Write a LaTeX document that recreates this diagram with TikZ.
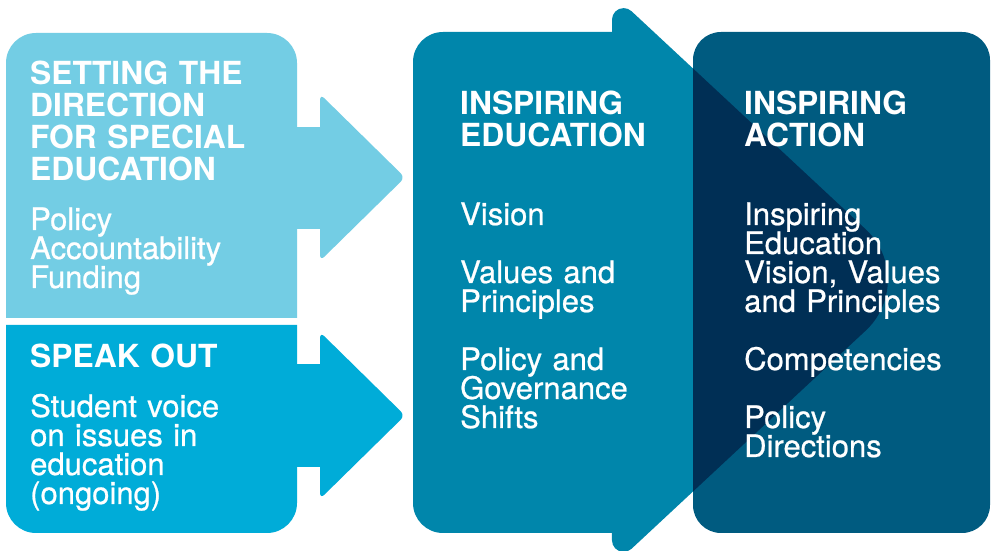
\documentclass[tikz,border=0pt]{standalone}
\usepackage{fontspec}
\setmainfont{TeX Gyre Heros}
\newfontfamily\bodyfont{TeX Gyre Heros}[FakeBold=0.7]
\lineskiplimit=-50pt\relax
\newcommand\tightlines{\lineskiplimit=-50pt\relax}
\definecolor{cLight}{HTML}{73CDE4}
\definecolor{cCyan}{HTML}{00ACD8}
\definecolor{cTeal}{HTML}{0086AB}
\definecolor{cDark}{HTML}{005B80}
\definecolor{cOver}{HTML}{002F55}
\newcommand\tealheadpath{(612,270) -- (612,531.3) arc[start angle=180,end angle=47,radius=11.6] -- (865.9,321.5) arc[start angle=47,end angle=-47,radius=69] -- (631.5,2.2) arc[start angle=-47,end angle=-180,radius=11.6] -- cycle}
\tikzset{
  head/.style={anchor=base west, inner sep=0pt, text=white, font=\tightlines\bfseries\fontsize{31.8}{32}\selectfont, text width=300pt, align=left},
  body/.style={anchor=base west, inner sep=0pt, text=white, font=\tightlines\bodyfont\fontsize{31}{29}\selectfont, text width=300pt, align=left},
}
\begin{document}
\begin{tikzpicture}[x=1pt,y=1pt]
\useasboundingbox (0,0) rectangle (991,551);
\clip (0,0) rectangle (991,551);
\fill[white] (0,0) rectangle (991,551);
% top-left box with arrow
\fill[cLight] (6,233) -- (6,488) arc[start angle=180,end angle=90,radius=30] -- (267,518) arc[start angle=90,end angle=0,radius=30] -- (297,233) -- cycle;
\fill[cLight] (290,322) rectangle (322,424);
\fill[cLight, rounded corners=6pt] (320,457) -- (405,373.5) -- (320,290) -- cycle;
% bottom-left box with arrow
\fill[cCyan] (6,226) -- (6,48) arc[start angle=180,end angle=270,radius=30] -- (267,18) arc[start angle=270,end angle=360,radius=30] -- (297,226) -- cycle;
\fill[cCyan] (290,84) rectangle (322,187);
\fill[cCyan, rounded corners=6pt] (320,219) -- (405,135.5) -- (320,52) -- cycle;
% middle teal arrow
\fill[cTeal] (620,519) -- (443,519) arc[start angle=90,end angle=180,radius=30] -- (413,48) arc[start angle=180,end angle=270,radius=30] -- (620,18) -- cycle;
\fill[cTeal] \tealheadpath;
% right dark box
\fill[cDark, rounded corners=28pt] (693,18) rectangle (990,519);
\begin{scope}
  \clip[rounded corners=28pt] (693,18) rectangle (990,519);
  \fill[cOver] \tealheadpath;
\end{scope}
% texts
\node[head] (h1) at (30,466) {SETTING THE\\DIRECTION\\FOR SPECIAL\\EDUCATION};
\node[body] (b1) at (30,321) {Policy\\Accountability\\Funding};
\node[head] (h2) at (30,183) {SPEAK OUT};
\node[body] (b2) at (30,134) {Student voice\\on issues in\\education\\(ongoing)};
\node[head] (h3) at (460,436) {INSPIRING\\EDUCATION};
\node[body] (b3) at (460,326) {Vision\\[29pt]Values and\\Principles\\[29pt]Policy and\\Governance\\Shifts};
\node[head] (h4) at (744,436) {INSPIRING\\ACTION};
\node[body] (b4) at (744,326) {Inspiring\\Education\\Vision, Values\\and Principles\\[29pt]Competencies\\[29pt]Policy\\Directions};
\end{tikzpicture}
\end{document}
